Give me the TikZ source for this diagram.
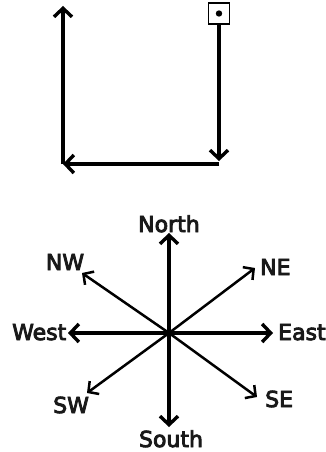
\documentclass[tikz,border=0pt]{standalone}
\usepackage{fontspec}
\setmainfont[FakeBold=4]{DejaVu Sans}
\usetikzlibrary{arrows.meta}
\begin{document}
\begin{tikzpicture}[x=1pt,y=-1pt,
  arr/.style={line width=4.2pt,-{Straight Barb[length=8.5pt,width=18pt,line width=3.4pt]}},
  darr/.style={line width=2.5pt,-{Straight Barb[length=7.5pt,width=16pt,line width=2.5pt]}},
  lbl/.style={inner sep=0pt,font=\fontsize{22}{24}\selectfont,text=black!90}]
\useasboundingbox (0,0) rectangle (325,452);
% top diagram
\node[draw,line width=1.3pt,minimum size=21pt,inner sep=0pt] (box) at (219,13.5) {};
\fill (box.center) circle (3.2pt);
\coordinate (tl) at (63,6);
\coordinate (bl) at (63,164);
\coordinate (br) at (219,164);
\coordinate (rt) at (219,161);
\draw[arr] (bl) -- (tl);
\draw[arr] (br) -- (bl);
\draw[arr] (box.south) -- (rt);
% compass
\coordinate (c) at (169,333);
\coordinate (n) at (169,233);
\coordinate (s) at (169,427);
\coordinate (w) at (68,333);
\coordinate (e) at (273,333);
\coordinate (ne) at (255,268);
\coordinate (nw) at (82,273);
\coordinate (sw) at (87,393);
\coordinate (se) at (257,397);
\draw[arr] (c) -- (n);
\draw[arr] (c) -- (s);
\draw[arr] (c) -- (w);
\draw[arr] (c) -- (e);
\draw[darr] (c) -- (ne);
\draw[darr] (c) -- (nw);
\draw[darr] (c) -- (sw);
\draw[darr] (c) -- (se);
\node[lbl,anchor=base] (ln) at (169,232) {North};
\node[lbl,anchor=base] (ls) at (171,447) {South};
\node[lbl,anchor=base west] (lw) at (12,340) {West};
\node[lbl,anchor=base west] (le) at (278,340) {East};
\node[lbl,anchor=base] (lnw) at (65,270) {NW};
\node[lbl,anchor=base west] (lne) at (260,275) {NE};
\node[lbl,anchor=base west] (lsw) at (53,413) {SW};
\node[lbl,anchor=base west] (lse) at (265,407) {SE};
\end{tikzpicture}
\end{document}
